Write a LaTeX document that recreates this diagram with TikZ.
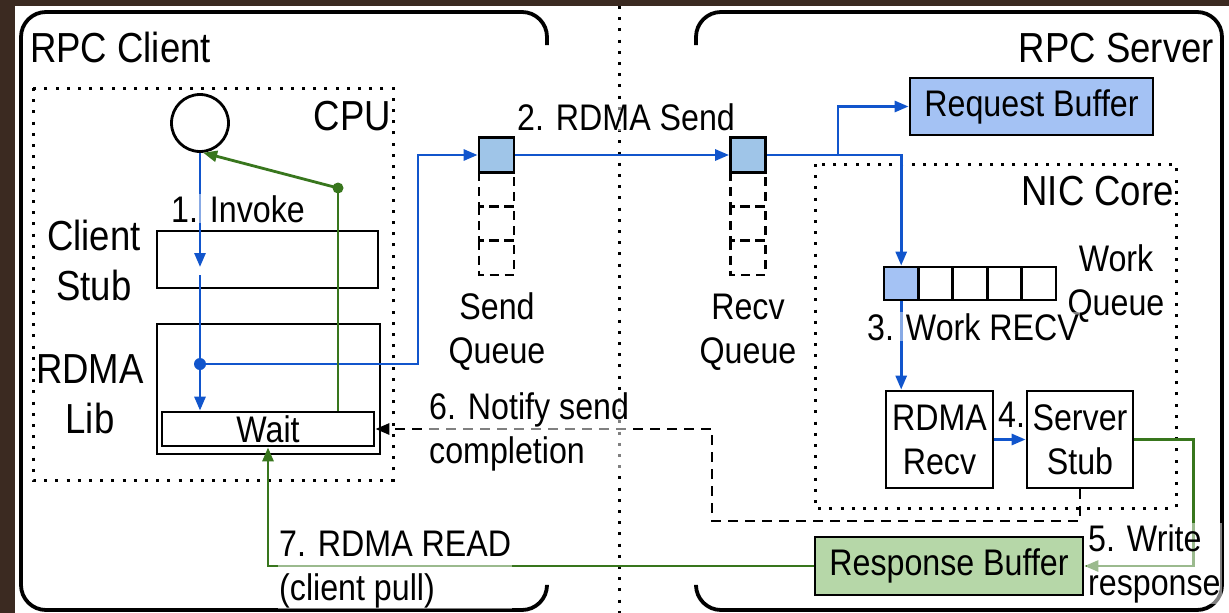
\documentclass[tikz,border=0pt]{standalone}
\usepackage{fontspec}
\setmainfont[FakeStretch=0.87]{Liberation Sans}
\usetikzlibrary{arrows.meta,calc}
\definecolor{bgbrown}{HTML}{3B2A21}
\definecolor{flowblue}{HTML}{1155CC}
\definecolor{flowgreen}{HTML}{38761D}
\definecolor{reqfill}{HTML}{A4C2F4}
\definecolor{cellfill}{HTML}{9FC5E8}
\definecolor{respfill}{HTML}{B6D7A8}
\tikzset{
	box/.style={draw, line width=2.8pt, inner sep=0pt, align=center},
	dotbox/.style={line width=3pt, dash pattern=on 3pt off 8.2pt},
	qdash/.style={line width=2.8pt, dash pattern=on 9pt off 6pt},
	bluearr/.style={flowblue, line width=2.8pt, -{Triangle[length=14pt,width=11pt]}},
	greenarr/.style={flowgreen, line width=2.8pt, -{Triangle[length=14pt,width=11pt]}},
	notify/.style={line width=2.8pt, dash pattern=on 10pt off 7pt, -{Triangle[length=14pt,width=11pt]}},
	lbl/.style={fill=white, fill opacity=0.5, text opacity=1, inner sep=1pt, align=left},
	title/.style={font=\fontsize{42}{50}\selectfont, inner sep=0pt, align=center}
}

\begin{document}
\begin{tikzpicture}[x=1pt, y=-1pt, font=\fontsize{37}{44}\selectfont]
			%%%%% START %%%%%
			\useasboundingbox (0,0) rectangle (1229,613);
			\fill[bgbrown] (0,0) rectangle (1229,613);
			\fill[white] (15,6) rectangle (1229,613);
			
			% client and server frames
			\draw[line width=3.8pt, rounded corners=25pt] (547,45) -- (547,12) -- (21,12) -- (21,610) -- (547,610) -- (547,587);
			\draw[line width=3.8pt, rounded corners=25pt] (696,45) -- (696,12) -- (1222,12) -- (1222,610) -- (696,610) -- (696,587);
			\draw[dotbox] (619,6) -- (619,613);
			
			% cpu side
			\draw[dotbox] (33,88) rectangle (393,480);
			\node[draw, circle, line width=2.8pt, minimum size=57pt, inner sep=0pt] (app) at (200,123) {};
			\node[box, minimum width=221pt, minimum height=57pt] (cstub) at (267.5,259.5) {};
			\node[box, minimum width=223pt, minimum height=130pt] (rlib) at (268.5,389) {};
			\node[box, minimum width=212pt, minimum height=34pt] (wait) at (268,429) {Wait};
			
			% queues
			\node[box, fill=cellfill, minimum size=35pt] (sq1) at (496.5,155) {};
			\foreach \k in {1,2,3}
				\draw[qdash] (479,{172+34.3*(\k-1)}) rectangle ++(35,34.3);
			\node[box, fill=cellfill, minimum size=35pt] (rq1) at (748,155) {};
			\foreach \k in {1,2,3}
				\draw[qdash] (730.5,{172+34.3*(\k-1)}) rectangle ++(35,34.3);
			
			% server side
			\node[box, fill=reqfill, minimum width=243pt, minimum height=57pt] (reqbuf) at (1031.5,106.5) {Request Buffer};
			\draw[dotbox] (815,164) rectangle (1176,508);
			\node[box, fill=reqfill, minimum width=34.4pt, minimum height=33pt] (wq1) at (901.2,283.5) {};
			\foreach \k in {2,...,5}
				\node[box, minimum width=34.4pt, minimum height=33pt] (wq\k) at ({901.2+34.4*(\k-1)},283.5) {};
			\node[box, minimum width=107pt, minimum height=97pt] (rrecv) at (939.5,439.5) {RDMA\\Recv};
			\node[box, minimum width=106pt, minimum height=97pt] (sstub) at (1080,439.5) {Server\\Stub};
			\node[box, fill=respfill, minimum width=268pt, minimum height=58pt] (respbuf) at (949,566) {Response Buffer};
			
			% blue request path
			\coordinate (stubout) at (200,275);
			\coordinate (split) at (200,364);
			\coordinate (rbranch) at (838,155);
			\draw[bluearr] (app.south) -- (200,267);
			\draw[bluearr] (stubout) -- (wait.north -| app);
			\draw[bluearr] (split) -| (418,155) -- (sq1.west);
			\fill[flowblue] (split) circle (6pt);
			\draw[bluearr] (sq1.east) -- (rq1.west);
			\draw[bluearr] (rq1.east) -| (wq1.north);
			\draw[bluearr] (rbranch) |- (reqbuf.west);
			\draw[bluearr] (wq1.south) -- (wq1.south |- rrecv.north);
			\draw[bluearr] (rrecv.east) -- (sstub.west);
			
			% green response path
			\coordinate (gdot) at (338,188);
			\draw[greenarr] (sstub.east) -- ++(59,0) |- (respbuf.east);
			\draw[greenarr] (respbuf.west) -| (wait.south);
			\draw[flowgreen, line width=2.8pt] (wait.north -| gdot) -- (gdot);
			\draw[greenarr] (gdot) -- (app.-84);
			\fill[flowgreen] (gdot) circle (5.5pt);
			
			% completion notification
			\draw[notify] (sstub.south) |- (712,521) |- (wait.east);
			
			% titles
			\node[title, anchor=base west] (cltitle) at (30,62) {RPC Client};
			\node[title, anchor=base east] (svtitle) at (1214,62) {RPC Server};
			\node[title, anchor=base east] (cputitle) at (391,130) {CPU};
			\node[title, anchor=base east] (nictitle) at (1174,205) {NIC Core};
			\node[title, anchor=base] (stubtxt) at (94,300) {Client\\Stub};
			\node[title, anchor=base] (libtxt) at (90,433) {RDMA\\Lib};
			
			% step labels
			\node[lbl, anchor=base west] (invoke) at (170,222) {1. Invoke};
			\node[lbl, anchor=base west] (sendlbl) at (516,130) {2. RDMA Send};
			\node[anchor=base, align=center] (sqtxt) at (497,363) {Send\\Queue};
			\node[anchor=base, align=center] (rqtxt) at (748,363) {Recv\\Queue};
			\node[lbl, anchor=base, align=center] (wqtxt) at (1116,315) {Work\\Queue};
			\node[lbl, anchor=base west] (wrecv) at (866,340) {3. Work RECV};
			\node[lbl, anchor=base west] (fourlbl) at (997,427) {4.};
			\node[lbl, anchor=base west] (writelbl) at (1087,595) {5. Write\\response};
			\node[lbl, anchor=base west] (notifylbl) at (428,463) {6. Notify send\\completion};
			\node[lbl, anchor=base west] (readlbl) at (278,600) {7. RDMA READ\\(client pull)};
			%%%%% END %%%%%
\end{tikzpicture}
\end{document}
